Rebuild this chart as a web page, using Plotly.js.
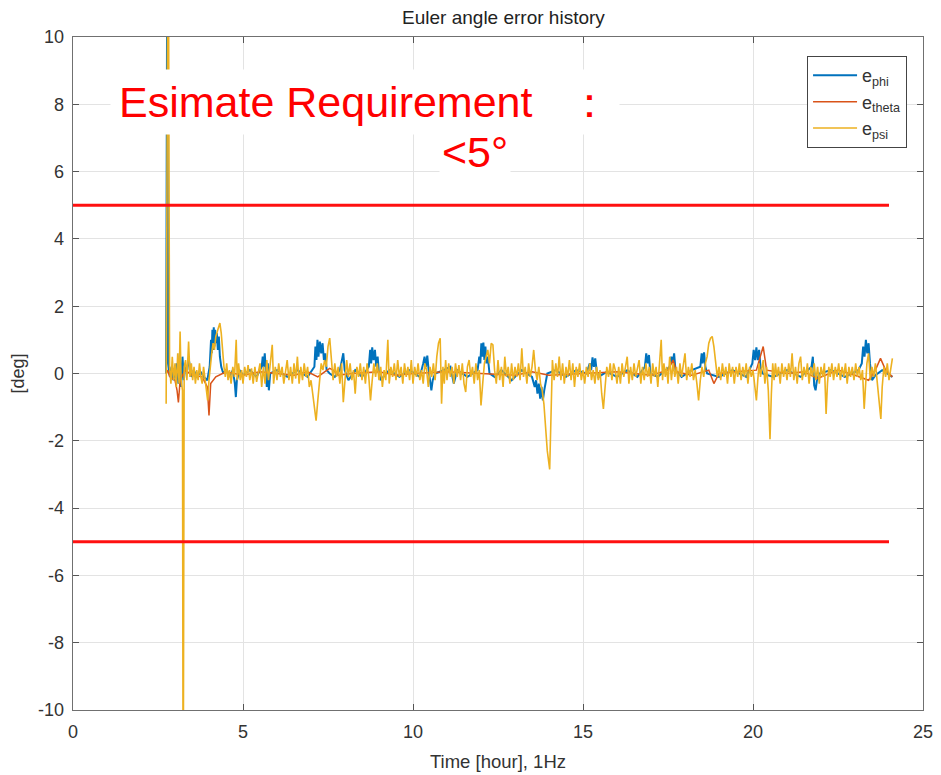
<!DOCTYPE html>
<html>
<head>
<meta charset="utf-8">
<script src="https://cdn.plot.ly/plotly-3.0.1.min.js"></script>
<style>html,body{margin:0;padding:0;background:#fff;}#chart{width:941px;height:775px;}</style>
</head>
<body>
<div id="chart"></div>
<script>
// ---- data (time in hours, error in deg) ----
const seriesNames = ["e<sub>phi</sub>", "e<sub>theta</sub>", "e<sub>psi</sub>"];

const phiT = [2.74,2.77,2.80,2.85,2.90,2.95,3.00,3.05,3.10,3.14,3.18,3.22,3.26,3.30,3.36,3.40,3.44,3.48,3.55,3.65,3.75,3.85,3.95,4.02,4.06,4.08,4.10,4.12,4.14,4.16,4.18,4.20,4.23,4.26,4.29,4.32,4.36,4.42,4.50,4.60,4.70,4.76,4.79,4.82,4.90,5.0,5.2,5.4,5.55,5.58,5.61,5.64,5.67,5.70,5.73,5.76,5.80,6.0,6.3,6.6,6.9,7.10,7.13,7.16,7.19,7.22,7.26,7.30,7.34,7.38,7.42,7.46,7.55,7.7,7.85,7.95,7.99,8.1,8.3,8.5,8.70,8.74,8.77,8.80,8.84,8.88,8.92,8.96,9.00,9.05,9.3,9.6,9.9,10.2,10.30,10.34,10.38,10.42,10.46,10.50,10.54,10.58,10.65,10.9,11.1,11.2,11.3,11.6,11.9,11.95,11.98,12.01,12.04,12.07,12.10,12.13,12.16,12.20,12.25,12.4,12.6,12.9,13.2,13.5,13.58,13.62,13.66,13.70,13.74,13.78,13.82,13.86,13.90,13.95,14.2,14.5,14.8,15.1,15.20,15.24,15.28,15.32,15.36,15.40,15.45,15.7,16.0,16.3,16.6,16.82,16.86,16.90,16.94,16.98,17.2,17.55,17.60,17.64,17.68,17.72,17.9,18.2,18.45,18.49,18.52,18.56,18.60,18.65,19.0,19.4,19.8,19.98,20.02,20.06,20.10,20.14,20.18,20.22,20.28,20.6,21.0,21.4,21.72,21.76,21.80,21.84,21.88,21.95,22.3,22.7,23.1,23.20,23.24,23.28,23.32,23.36,23.40,23.44,23.50,23.6,23.8,24.1];
const phiV = [0,12,0.3,-0.1,0.2,-0.2,0.1,0.3,-0.3,0.6,-0.4,0.5,-0.2,0.2,0.1,0.45,0.2,-0.1,0.1,-0.1,0.05,-0.1,-0.2,0.2,1.0,0.6,1.3,0.7,1.37,0.8,1.3,0.9,1.2,0.7,1.1,0.5,0.2,0.0,0.1,-0.1,0.1,-0.3,-0.7,-0.2,0.1,-0.05,0.1,-0.1,0.2,0.5,0.2,0.6,0.1,-0.4,0.3,-0.5,0.0,0.1,-0.1,0.1,-0.1,0.2,0.8,0.4,1.0,0.5,0.95,0.6,0.9,0.4,0.6,0.1,0.0,-0.1,0.1,0.6,0.1,-0.2,0.1,-0.1,0.2,0.7,0.3,0.78,0.4,0.7,0.2,0.5,0.0,-0.2,0.1,-0.1,0.1,-0.1,0.3,0.5,0.2,0.53,0.1,-0.3,-0.5,-0.2,0.0,0.1,0.2,-0.3,0.1,-0.1,0.1,0.5,0.3,0.9,0.5,0.92,0.4,0.8,0.3,0.5,0.0,-0.1,0.1,-0.2,0.1,-0.1,-0.4,-0.2,-0.6,-0.3,-0.75,-0.4,-0.8,-0.5,-0.3,0.0,0.1,-0.1,0.1,0.0,0.3,0.1,0.48,0.2,0.45,0.1,-0.1,0.05,-0.1,0.1,-0.1,0.2,0.6,0.3,0.55,0.0,-0.1,0.2,0.5,0.3,0.6,0.1,-0.1,0.1,0.2,0.6,0.3,0.63,0.2,0.0,-0.1,0.1,-0.1,0.3,0.7,0.4,0.78,0.4,0.7,0.2,0.0,-0.1,0.1,-0.1,0.2,0.5,-0.35,-0.5,-0.2,0.0,0.1,-0.1,0.1,0.3,0.8,0.5,1.0,0.6,0.9,0.3,-0.2,-0.05,0.1,-0.1];

const thetaT = [2.74,2.78,2.85,3.00,3.06,3.10,3.15,3.30,3.50,3.80,3.95,4.00,4.05,4.20,4.50,5.00,5.50,6.00,6.50,6.90,7.20,7.40,7.55,7.65,7.80,8.20,9.00,9.50,10.00,11.00,12.00,13.00,13.50,14.00,15.00,16.00,17.00,17.50,17.65,17.75,18.20,18.70,18.85,19.00,19.50,20.10,20.30,20.40,21.00,21.50,21.90,22.50,23.00,23.40,23.60,23.75,23.90,24.10];
const thetaV = [0,0.1,-0.1,-0.2,-0.5,-0.86,-0.2,0.1,-0.05,-0.1,-0.4,-1.25,-0.3,-0.1,0.05,-0.05,0.05,0,-0.05,0.05,-0.1,0.05,0.15,0.1,-0.05,0,0.05,-0.05,0,0.05,0,-0.05,0.05,-0.05,0,0.05,-0.05,0.1,0.4,0.05,-0.05,0.1,-0.3,0,0.05,0.1,0.8,0.1,0,0.05,-0.15,0.1,-0.05,-0.2,0.1,0.45,0.1,-0.1];

const psiT = [2.74,2.78,2.80,2.84,2.88,2.92,2.96,3.00,3.04,3.08,3.12,3.15,3.18,3.22,3.24,3.27,3.31,3.35,3.40,3.44,3.48,3.52,3.56,3.60,3.64,3.68,3.72,3.76,3.80,3.84,3.88,3.92,3.96,4.00,4.04,4.08,4.12,4.16,4.20,4.26,4.32,4.36,4.40,4.44,4.48,4.52,4.56,4.60,4.65,4.70,4.75,4.80,4.83,4.87,4.92,4.96,5.00,5.05,5.10,5.15,5.20,5.25,5.30,5.35,5.40,5.45,5.50,5.55,5.60,5.65,5.70,5.75,5.80,5.86,5.90,5.95,6.00,6.05,6.10,6.15,6.20,6.25,6.30,6.35,6.40,6.45,6.50,6.55,6.60,6.65,6.70,6.75,6.80,6.85,6.90,6.95,7.00,7.05,7.10,7.15,7.20,7.25,7.30,7.35,7.40,7.45,7.50,7.55,7.60,7.65,7.70,7.75,7.80,7.85,7.90,7.95,8.00,8.05,8.10,8.15,8.20,8.25,8.30,8.35,8.40,8.45,8.50,8.55,8.60,8.65,8.70,8.75,8.80,8.85,8.90,8.95,9.00,9.05,9.10,9.15,9.20,9.26,9.30,9.35,9.40,9.45,9.50,9.55,9.60,9.65,9.70,9.75,9.80,9.85,9.90,9.95,10.00,10.05,10.10,10.15,10.20,10.25,10.30,10.35,10.40,10.45,10.50,10.55,10.60,10.65,10.70,10.75,10.80,10.84,10.88,10.92,10.96,11.00,11.05,11.10,11.15,11.20,11.25,11.30,11.35,11.40,11.45,11.50,11.55,11.60,11.65,11.70,11.75,11.80,11.85,11.90,11.95,12.00,12.05,12.10,12.15,12.20,12.25,12.30,12.35,12.40,12.45,12.50,12.55,12.60,12.65,12.70,12.75,12.80,12.85,12.90,12.95,13.00,13.05,13.10,13.15,13.20,13.25,13.30,13.35,13.40,13.45,13.50,13.55,13.60,13.65,13.70,13.75,13.80,13.85,13.90,13.95,14.02,14.06,14.10,14.15,14.20,14.25,14.30,14.35,14.40,14.45,14.50,14.55,14.60,14.65,14.70,14.75,14.80,14.85,14.90,14.95,15.00,15.05,15.10,15.15,15.20,15.25,15.30,15.35,15.40,15.45,15.50,15.55,15.60,15.65,15.70,15.75,15.80,15.85,15.90,15.95,16.00,16.05,16.10,16.15,16.20,16.25,16.30,16.35,16.40,16.45,16.50,16.55,16.60,16.65,16.70,16.75,16.80,16.85,16.90,16.95,17.00,17.05,17.10,17.15,17.20,17.25,17.30,17.34,17.38,17.42,17.46,17.50,17.55,17.60,17.65,17.70,17.75,17.80,17.85,17.90,17.95,18.00,18.05,18.10,18.15,18.20,18.25,18.30,18.35,18.40,18.45,18.50,18.55,18.60,18.65,18.70,18.75,18.80,18.85,18.90,18.95,19.00,19.05,19.10,19.15,19.20,19.25,19.30,19.35,19.40,19.45,19.50,19.55,19.60,19.65,19.70,19.75,19.80,19.85,19.90,19.95,20.00,20.05,20.10,20.14,20.18,20.22,20.26,20.30,20.35,20.40,20.45,20.50,20.54,20.58,20.62,20.66,20.70,20.75,20.80,20.85,20.90,20.95,21.00,21.05,21.10,21.15,21.20,21.25,21.30,21.35,21.40,21.45,21.50,21.55,21.60,21.65,21.70,21.75,21.80,21.85,21.90,21.95,22.00,22.05,22.10,22.15,22.19,22.23,22.27,22.32,22.37,22.42,22.47,22.52,22.57,22.62,22.67,22.72,22.77,22.82,22.87,22.92,22.97,23.02,23.07,23.12,23.17,23.22,23.27,23.31,23.35,23.40,23.45,23.50,23.55,23.60,23.65,23.70,23.76,23.80,23.85,23.90,23.95,24.00,24.05,24.10];
const psiV = [-0.9,15,15,0.2,-0.3,0.5,-0.2,0.3,-0.4,0.6,-0.3,1.25,-0.2,-0.5,-14,0.2,0.4,-0.2,0.95,-0.1,0.3,-0.2,0.2,-0.3,0.1,-0.2,0.3,-0.1,-0.3,0.2,-0.1,-0.35,-0.8,-0.2,0.3,0.6,0.9,0.7,1.1,1.3,1.5,1.2,0.6,0.2,-0.1,0.3,-0.2,0.1,-0.3,0.2,-0.1,1.0,-0.2,0.3,-0.2,0.1,-0.3,0.2,-0.1,0.25,-0.2,0.15,-0.3,0.2,-0.25,0.1,0.3,-0.4,0.2,-0.3,0.4,-0.2,0.3,0.85,-0.3,0.2,-0.2,0.3,-0.1,0.2,-0.3,0.1,0.4,-0.2,0.2,-0.3,0.3,-0.15,0.5,-0.3,0.2,-0.2,0.3,-0.1,0.2,-0.4,-0.2,-0.6,-1.0,-1.4,-0.8,-0.2,0.3,0.1,0.4,0.2,0.8,1.05,0.5,-0.2,0.3,-0.1,0.2,-0.3,0.3,-0.85,-0.2,0.4,-0.1,0.3,-0.2,0.1,-0.6,0.2,-0.1,0.3,-0.2,0.2,-0.3,0.3,-0.1,-0.8,-0.2,0.3,-0.1,0.3,-0.2,0.2,-0.4,0.1,-0.2,1.0,-0.3,0.2,-0.1,0.3,-0.2,0.4,-0.1,0.2,-0.3,0.3,-0.1,0.2,-0.2,0.4,-0.3,0.2,-0.1,0.3,-0.2,0.1,-0.3,0.3,0.1,-0.4,0.2,-0.1,0.3,-0.2,0.5,0.9,1.05,-0.9,0.2,-0.3,0.4,-0.2,0.3,-0.1,0.2,-0.3,0.3,-0.1,0.25,-0.2,0.3,-0.3,-0.55,0.2,0.4,-0.1,0.2,-0.3,0.3,-0.2,0.1,-0.95,-0.3,0.3,0.5,0.7,0.3,0.9,0.85,0.1,-0.3,0.4,-0.2,0.2,-0.4,0.5,-0.1,0.2,-0.3,0.3,-0.2,0.2,-0.1,0.3,-0.2,0.75,-0.1,0.2,-0.3,0.3,-0.1,0.2,0.7,0.1,-0.2,0.2,-0.3,-0.5,-0.9,-1.6,-2.3,-2.85,-1.5,0.4,-0.2,0.3,-0.1,0.5,-0.2,0.3,-0.3,0.2,-0.1,0.4,-0.2,0.3,-0.4,0.2,-0.1,0.3,-0.2,0.1,-0.3,0.2,-0.1,0.3,-0.2,0.1,-0.3,0.2,-0.2,0.1,-0.6,-1.05,-0.4,0.2,-0.1,0.3,-0.2,0.3,0.1,-0.3,0.2,-0.3,0.3,-0.1,0.2,0.5,-0.3,0.2,-0.2,0.3,-0.1,0.2,0.4,-0.3,0.2,-0.2,0.3,-0.1,0.2,-0.3,0.3,-0.1,0.2,-0.4,0.3,1.0,-0.2,0.3,-0.1,0.2,-0.3,0.5,-0.2,0.3,-0.1,0.2,-0.3,0.3,-0.1,0.2,0.6,-0.2,0.2,-0.1,0.3,-0.2,0.1,-0.3,-0.8,-0.2,0.2,-0.1,0.3,0.5,0.9,1.05,1.1,0.8,0.3,-0.1,0.2,-0.2,0.3,-0.1,0.2,-0.3,0.3,-0.1,0.2,-0.3,0.2,-0.1,0.3,-0.2,0.2,-0.1,0.3,-0.3,0.2,-0.1,0.1,-0.3,-0.8,-0.2,0.3,-0.1,0.2,0.4,-0.3,0.2,-0.5,-1.95,-0.6,0.3,-0.2,0.3,-0.1,0.2,-0.3,0.3,-0.1,0.2,-0.2,0.3,-0.1,0.6,-0.2,0.2,-0.3,0.3,0.5,-0.2,0.2,-0.1,0.3,-0.3,0.2,-0.1,0.3,-0.2,0.2,-0.3,0.2,-0.1,0.3,-1.2,-0.3,0.2,-0.1,0.3,-0.2,0.2,-0.1,0.3,-0.2,0.2,-0.1,0.3,-0.3,0.2,-0.1,0.2,-0.2,0.3,-0.1,0.2,-0.2,0.1,-1.05,-0.3,0.3,0.6,-0.2,0.2,-0.1,0.3,-0.2,-0.6,-1.35,-0.4,0.2,-0.1,0.3,-0.2,0.2,0.45];

const limitT = [0, 24];
const upperLimit = [5, 5];
const lowerLimit = [-5, -5];

const xTicks = [0, 5, 10, 15, 20, 25];
const xTickText = ["0", "5", "10", "15", "20", "25"];
const yTicks = [-10, -8, -6, -4, -2, 0, 2, 4, 6, 8, 10];
const yTickText = ["-10", "-8", "-6", "-4", "-2", "0", "2", "4", "6", "8", "10"];

const chartTitle = "Euler angle error history";
const xTitle = "Time [hour], 1Hz";
const yTitle = "[deg]";
const noteLine1 = "Esimate Requirement&nbsp;&nbsp;&nbsp;：";
const noteLine2 = "&lt;5°";

// ---- drawing ----
const FONT = "Liberation Sans, Arial, sans-serif";
const colors = ["#0072BD", "#D95319", "#EDB120"];

const traces = [
  {x: phiT, y: phiV, name: seriesNames[0], type: "scatter", mode: "lines", line: {color: colors[0], width: 2}},
  {x: thetaT, y: thetaV, name: seriesNames[1], type: "scatter", mode: "lines", line: {color: colors[1], width: 1.5}},
  {x: psiT, y: psiV, name: seriesNames[2], type: "scatter", mode: "lines", line: {color: colors[2], width: 1.6}},
  {x: limitT, y: upperLimit, type: "scatter", mode: "lines", line: {color: "#ff1010", width: 3}, showlegend: false},
  {x: limitT, y: lowerLimit, type: "scatter", mode: "lines", line: {color: "#ff1010", width: 3}, showlegend: false}
];

const axisCommon = {
  ticks: "inside", ticklen: 6, tickwidth: 1, tickcolor: "#555",
  showline: true, linecolor: "#707070", linewidth: 1.3, mirror: "ticks",
  showgrid: true, gridcolor: "#e3e3e3", gridwidth: 1, zeroline: false,
  tickfont: {family: FONT, size: 18, color: "#333"}
};

const layout = {
  width: 941, height: 775,
  margin: {l: 73, r: 18, t: 37, b: 65},
  paper_bgcolor: "#fff", plot_bgcolor: "#fff",
  font: {family: FONT, color: "#333"},
  title: {text: chartTitle, font: {family: FONT, size: 19, color: "#222"}, x: 0.535, xanchor: "center", y: 0.977, yanchor: "middle"},
  xaxis: Object.assign({}, axisCommon, {range: [0, 25], tickvals: xTicks, ticktext: xTickText, ticklabelstandoff: 5,
    title: {text: xTitle, font: {family: FONT, size: 18.5, color: "#333"}, standoff: 14}}),
  yaxis: Object.assign({}, axisCommon, {range: [-10, 10], tickvals: yTicks, ticktext: yTickText, ticklabelstandoff: 4,
    title: {text: yTitle, font: {family: FONT, size: 18, color: "#333"}, standoff: 8}}),
  legend: {x: 0.981, xanchor: "right", y: 0.972, yanchor: "top",
    bgcolor: "#fff", bordercolor: "#444", borderwidth: 1.2,
    font: {family: FONT, size: 18, color: "#333"}, itemwidth: 44, tracegroupgap: 4},
  showlegend: true,
  annotations: [
    {text: noteLine1, xref: "paper", yref: "paper", x: 0.043, y: 0.903, xanchor: "left", yanchor: "middle",
     showarrow: false, bgcolor: "#fff", borderpad: 8,
     font: {family: FONT, size: 43, color: "#ff0000"}},
    {text: noteLine2, xref: "paper", yref: "paper", x: 0.43, y: 0.829, xanchor: "left", yanchor: "middle",
     showarrow: false, bgcolor: "#fff", borderpad: 2,
     font: {family: FONT, size: 43, color: "#ff0000"}}
  ]
};

Plotly.newPlot("chart", traces, layout, {staticPlot: true, displayModeBar: false});
</script>
</body>
</html>
